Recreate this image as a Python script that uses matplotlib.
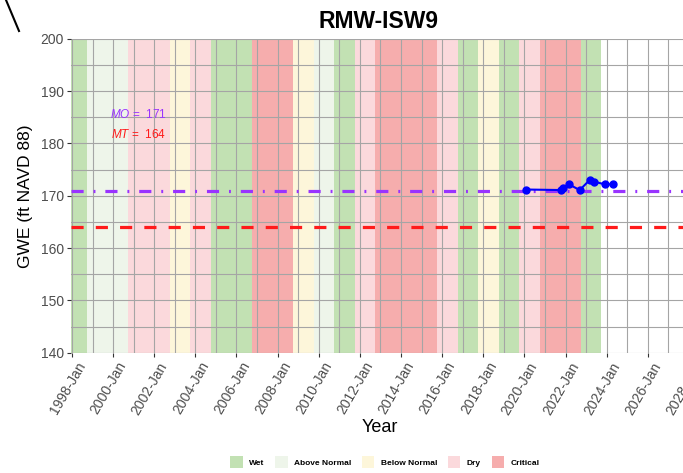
import datetime as dt
import matplotlib
matplotlib.use("Agg")
import matplotlib.pyplot as plt
import matplotlib.dates as mdates
import matplotlib.transforms as mtransforms
from matplotlib.patches import Patch
from matplotlib.lines import Line2D

plt.rcParams['font.family'] = ['Liberation Sans', 'DejaVu Sans']
plt.rcParams['mathtext.fontset'] = 'custom'
plt.rcParams['mathtext.it'] = 'Liberation Sans:italic'
plt.rcParams['mathtext.rm'] = 'Liberation Sans'

# water year types (WY runs Oct of previous year to Sep)
wy_years = list(range(1998, 2024))
wy_types = ['W', 'AN', 'AN', 'D', 'D', 'BN', 'D', 'W', 'W', 'C', 'C', 'BN', 'AN',
            'W', 'D', 'C', 'C', 'C', 'D', 'W', 'BN', 'W', 'D', 'C', 'C', 'W']
type_names = ['Wet', 'Above Normal', 'Below Normal', 'Dry', 'Critical']
type_keys = ['W', 'AN', 'BN', 'D', 'C']
type_colors = {'W': '#c2e1b3', 'AN': '#eef5ea', 'BN': '#fdf6da', 'D': '#fbd9dc', 'C': '#f6adad'}

# measurements
obs_dates = ['2020-02-01', '2021-10-15', '2021-11-20', '2022-03-01', '2022-09-10',
             '2023-03-05', '2023-05-20', '2023-12-01', '2024-04-15']
obs_gwe = [171.2, 171.1, 171.4, 172.2, 171.1, 173.0, 172.7, 172.2, 172.2]

mo_value = 171
mt_value = 164

fig = plt.figure(figsize=(6.83, 4.73), dpi=100)
ax = fig.add_axes([71 / 683, 1 - 352.7 / 473, (712 - 71) / 683, (352.7 - 38.9) / 473])

for yr, t in zip(wy_years, wy_types):
    ax.axvspan(dt.datetime(yr - 1, 10, 1), dt.datetime(yr, 10, 1),
               color=type_colors[t], lw=0, zorder=0)

ax.axhline(mo_value, color='#9933ff', lw=2.3, ls=(0, (3.8, 3.1, 0.6, 3.1)), zorder=3)
ax.axhline(mt_value, color='#ff1a1a', lw=2.3, ls=(0, (3.8, 3.8)), zorder=3)

xs = [dt.datetime.strptime(d, '%Y-%m-%d') for d in obs_dates]
ax.plot(xs, obs_gwe, color='#0000ff', lw=1.5, marker='o', ms=5, zorder=4)

ax.text(dt.datetime(2001, 4, 1), 185.5, r'$MO$ =  171', color='#9933ff',
        fontsize=8.5, ha='center', va='center')
ax.text(dt.datetime(2001, 4, 1), 181.8, r'$MT$ =  164', color='#ff1a1a',
        fontsize=8.5, ha='center', va='center')

ax.set_xlim(dt.datetime(1997, 12, 15), dt.datetime(2029, 2, 15))
ax.set_ylim(140, 200)
ax.set_yticks(range(140, 201, 10))
ax.set_yticks(range(145, 200, 10), minor=True)
ax.xaxis.set_major_locator(mdates.YearLocator(2, month=1, day=1))
ax.xaxis.set_minor_locator(mdates.YearLocator(1, month=1, day=1))
ax.xaxis.set_major_formatter(mdates.DateFormatter('%Y-%b'))
ax.grid(True, which='both', color='#a5a5a5', lw=0.8, zorder=1)
ax.set_axisbelow(True)
for s in ax.spines.values():
    s.set_visible(False)
ax.tick_params(axis='both', which='major', length=3, color='#333333',
               labelcolor='#4d4d4d', labelsize=10, pad=2)
ax.tick_params(axis='both', which='minor', length=0)
shift = mtransforms.ScaledTranslation(4 / 100, 0, fig.dpi_scale_trans)
for lab in ax.get_xticklabels():
    lab.set_rotation(60)
    lab.set_ha('right')
    lab.set_rotation_mode('anchor')
    lab.set_transform(lab.get_transform() + shift)

ax.set_ylabel('GWE (ft NAVD 88)', fontsize=12.5)
ax.yaxis.set_label_coords(-(71 - 33) / (712 - 71), 0.5)
ax.set_xlabel('Year', fontsize=13)
ax.xaxis.set_label_coords((380 - 71) / (712 - 71), -(427 - 352.7) / (352.7 - 38.9))
ax.xaxis.label.set_va('center')
fig.text(379 / 683, 1 - 21 / 473, 'RMW-ISW9', fontsize=16.5, fontweight='bold',
         ha='center', va='center')

handles = [Patch(facecolor=type_colors[k], edgecolor='none') for k in type_keys]
fig.legend(handles, type_names, loc='center', bbox_to_anchor=(385 / 683, 1 - 462 / 473),
           ncol=5, frameon=False, prop={'size': 6, 'weight': 'bold'},
           handlelength=1.45, handleheight=2.0, columnspacing=1.3, handletextpad=0.8)

# stray stroke at top-left corner
fig.add_artist(Line2D([6 / 683, 19 / 683], [1.0, 1 - 31 / 473], color='black', lw=1.5))

fig.savefig('out.png', dpi=100)
